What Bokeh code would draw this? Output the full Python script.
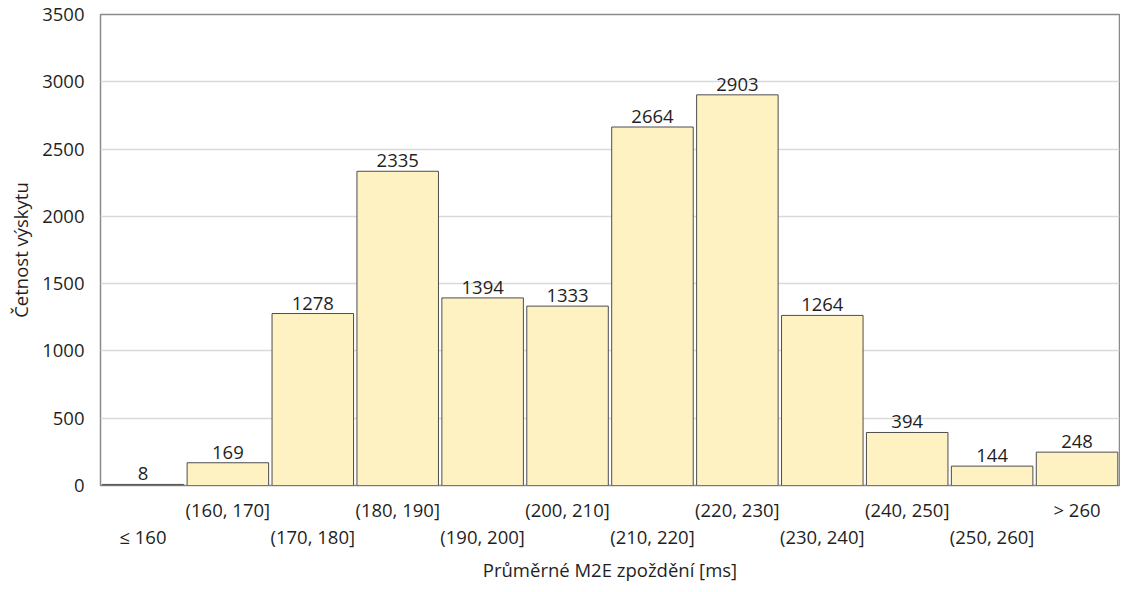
from bokeh.plotting import figure
from bokeh.models import Range1d, LinearAxis, FixedTicker, ColumnDataSource
from bokeh.core.properties import value
from bokeh.embed import file_html
from bokeh.resources import INLINE

categories = ["≤ 160", "(160, 170]", "(170, 180]", "(180, 190]", "(190, 200]", "(200, 210]",
              "(210, 220]", "(220, 230]", "(230, 240]", "(240, 250]", "(250, 260]", "> 260"]
counts = [8, 169, 1278, 2335, 1394, 1333, 2664, 2903, 1264, 394, 144, 248]
y_ticks = [0, 500, 1000, 1500, 2000, 2500, 3000, 3500]

FONT = "Open Sans"
TXT = "#1f1f1f"
FS = "18.5px"

pos = list(range(len(categories)))
src = ColumnDataSource(dict(x=pos, top=counts, label=[str(c) for c in counts]))

p = figure(x_range=Range1d(-0.5, len(categories) - 0.5), y_range=Range1d(0, 3500),
           width=1120, height=584, output_backend="svg", toolbar_location=None,
           x_axis_location=None,
           min_border_left=100, min_border_right=1, min_border_top=14, min_border_bottom=0)

p.vbar(x="x", top="top", width=0.96, source=src, fill_color="#FFF2C2",
       line_color="#4d4d4d", line_width=1)
p.text(x="x", y="top", text="label", source=src, text_align="center", text_baseline="bottom",
       y_offset=-4, text_font=value(FONT), text_font_size=FS, text_color=TXT)

p.outline_line_color = "#8a8a8a"
p.outline_line_width = 1.5
p.xgrid.grid_line_color = None
p.ygrid.grid_line_color = "#d9d9d9"
p.ygrid.grid_line_width = 1.5
p.background_fill_color = "white"
p.border_fill_color = "white"

ya = p.yaxis[0]
ya.ticker = FixedTicker(ticks=y_ticks)
ya.axis_line_color = None
ya.major_tick_line_color = None
ya.minor_tick_line_color = None
ya.major_label_text_font = FONT
ya.major_label_text_font_size = FS
ya.major_label_text_color = TXT
ya.major_label_standoff = 10
ya.axis_label = "Četnost výskytu"
ya.axis_label_text_font = FONT
ya.axis_label_text_font_size = FS
ya.axis_label_text_font_style = "normal"
ya.axis_label_text_color = TXT
ya.axis_label_standoff = 6

def make_x(parity, standoff):
    ticks = [i for i in pos if i % 2 == parity]
    ax = LinearAxis(ticker=FixedTicker(ticks=ticks, minor_ticks=[]),
                    major_label_overrides={i: categories[i] for i in ticks})
    ax.axis_line_color = None
    ax.major_tick_line_color = None
    ax.minor_tick_line_color = None
    ax.major_tick_out = 0
    ax.major_label_text_font = FONT
    ax.major_label_text_font_size = FS
    ax.major_label_text_color = TXT
    ax.major_label_orientation = "horizontal"
    ax.major_label_standoff = standoff
    return ax

xa = make_x(1, 11)
p.add_layout(xa, "below")

xb = make_x(0, -1)
xb.axis_label = "Průměrné M2E zpoždění [ms]"
xb.axis_label_text_font = FONT
xb.axis_label_text_font_size = FS
xb.axis_label_text_font_style = "normal"
xb.axis_label_text_color = TXT
xb.axis_label_standoff = 5
p.add_layout(xb, "below")

open("out.html", "w").write(file_html(p, INLINE))
